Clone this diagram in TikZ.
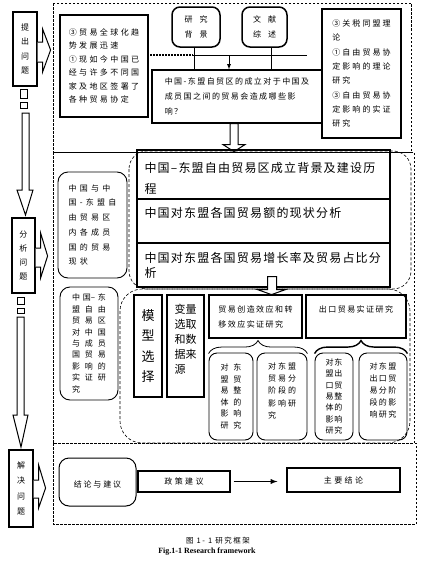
\documentclass[tikz,border=0pt]{standalone}
\usepackage{fontspec}
\setmainfont{Liberation Serif}
\newfontfamily\cjk{Noto Sans CJK SC}
\usetikzlibrary{decorations.pathreplacing}
\newcommand{\zh}[3]{\cjk\fontsize{#1}{#2}\selectfont\addfontfeature{LetterSpace=#3}}
\newcommand{\cell}[1]{\makebox[13pt]{#1}}
\begin{document}
\begin{tikzpicture}[x=1pt,y=-1pt]
\tikzstyle{box}=[draw,line width=1.2pt,inner sep=0pt,align=left]
\tikzstyle{rbox}=[box,line width=0.9pt,rounded corners=8pt]
\tikzstyle{wide}=[box,text width=238,inner xsep=7.5pt,minimum height=44]
\tikzstyle{frame}=[draw,line width=0.9pt,dash pattern=on 2.5pt off 1.5pt]
\tikzstyle{zone}=[draw,line width=0.6pt,dash pattern=on 3pt off 2pt,rounded corners=18pt]
\tikzstyle{hollow}=[draw,line width=1pt,fill=white]
\useasboundingbox (0,0) rectangle (428,562);
\draw[frame] (53,3) rectangle (411,152);
\draw[frame] (53,152) rectangle (414,443);
\draw[frame] (53,443) rectangle (416,524);
\draw[zone] (129,151) rectangle (411,289);
\draw[zone,rounded corners=22pt] (120,289) rectangle (410,443);
% left column
\node[box,align=center,minimum width=24,minimum height=74,font=\zh{8}{14.5}{0}] at (25,49) (raise) {提\\出\\问\\题};
\node[box,align=center,minimum width=23,minimum height=75,font=\zh{8}{14}{0}] at (23.5,255.5) (analyse) {分\\析\\问\\题};
\node[box,align=center,minimum width=24,minimum height=77,font=\zh{8}{15.3}{0}] at (21,488.5) (solve) {解\\决\\问\\题};
\draw[hollow] (raise.east) ++(0,-7) -- ++(5,0) -- ++(0,-13) -- ++(8,21) -- ++(-8,22) -- ++(0,-10) -- ++(-5,0);
\draw[hollow] (analyse.east) ++(0,-7.5) -- ++(5,0) -- ++(0,-15) -- ++(7,23) -- ++(-7,22) -- ++(0,-11) -- ++(-5,0);
\draw[hollow] (solve.east) ++(0,-8.5) -- ++(5,0) -- ++(0,-15) -- ++(7,23) -- ++(-7,20) -- ++(0,-10) -- ++(-5,0);
\draw[hollow] (20,89) rectangle (27,98);
\draw[hollow] (20,102) rectangle (27,108);
\draw[hollow] (22,113) -- (29,113) -- (29,190) -- (33,190) -- (25.5,215) -- (17,190) -- (22,190) -- cycle;
\draw[hollow] (17,297) rectangle (24,304);
\draw[hollow] (17,308) rectangle (24,313);
\draw[hollow] (17,317) -- (24,317) -- (24,415) -- (28,415) -- (21,447) -- (13,415) -- (17,415) -- cycle;
% top part
\node[box,minimum width=88,minimum height=102,font=\zh{8}{13.4}{30}] at (104,66) (trend) {③贸易全球化趋\\势发展迅速\\①现如今中国已\\经与许多不同国\\家及地区签署了\\各种贸易协定};
\node[rbox,line width=1.5pt,align=center,minimum width=48,minimum height=40,font=\zh{8}{15}{0}] at (196,27) (backgr) {研\hspace{7pt}究\\背\hspace{7pt}景};
\node[rbox,line width=1.5pt,align=center,minimum width=45,minimum height=40,font=\zh{8}{15}{0}] at (264.5,27) (review) {文\hspace{7pt}献\\综\hspace{7pt}述};
\node[box,minimum width=170,minimum height=53,font=\zh{8}{15}{18}] at (237,96.5) (ques) {中国-东盟自贸区的成立对于中国及\\成员国之间的贸易会造成哪些影\\响？};
\node[box,minimum width=79,minimum height=129,font=\zh{8}{14.3}{26}] at (361.5,73.5) (theory) {③关税同盟理\\论\\①自由贸易协\\定影响的理论\\研究\\③自由贸易协\\定影响的实证\\研究};
\coordinate (hl) at (150,55);
\coordinate (hm) at (193,55);
\coordinate (hr) at (307,55);
\coordinate (ha) at (229,55);
\draw[line width=1.5pt,dash pattern=on 2pt off 1pt] (hl) -- (hm);
\draw[line width=0.8pt] (hm) -- (hr);
\draw[line width=0.8pt] ([xshift=-2]backgr.south) -- ([xshift=-2]backgr.south |- ques.north);
\draw[line width=0.8pt] ([xshift=7]review.south) -- ([xshift=7]review.south |- ques.north);
\draw[line width=0.8pt,-latex] (ha) -- (ha |- ques.north);
\draw[hollow] ([xshift=-7]ques.south) -- ++(8,0) -- ++(0,21) -- ++(7,0) -- ++(-11,7) -- ++(-11,-7) -- ++(7,0) -- cycle;
% middle part
\node[wide,minimum height=49,font=\zh{12}{21}{10}] at (263.5,174.5) (hist) {\mbox{}\\[-3pt]中国–东盟自由贸易区成立背景及建设历\\程};
\node[wide,font=\zh{12}{17}{10}] at (263.5,221) (amount) {中国对东盟各国贸易额的现状分析\\\mbox{}};
\node[wide,font=\zh{12}{15}{10}] at (263.5,265) (rate) {中国对东盟各国贸易增长率及贸易占比分\\析};
\draw[hollow] ([xshift=4]rate.south) ++(0,-11) -- ++(9,0) -- ++(0,13) -- ++(9,0) -- ++(-14,5) -- ++(-14,-5) -- ++(10,0) -- cycle;
\node[rbox,rounded corners=10pt,minimum width=69,minimum height=106,font=\zh{8}{14.7}{40}] at (92.5,225) (status) {中国与中\\国-东盟自\\由贸易区\\内各成员\\国的贸易\\现状};
\node[rbox,rounded corners=10pt,minimum width=58,minimum height=113,font=\zh{8}{11.4}{0}] at (89,343.5) (impact) {\cell{中}\cell{国–}\cell{东}\\\cell{盟}\cell{自}\cell{由}\\\cell{贸}\cell{易}\cell{区}\\\cell{对}\cell{中}\cell{国}\\\cell{与}\cell{成}\cell{员}\\\cell{国}\cell{贸}\cell{易}\\\cell{影}\cell{响}\cell{的}\\\cell{实}\cell{证}\cell{研}\\\cell{究}};
\node[box,align=center,minimum width=28,minimum height=102,font=\zh{13}{20.5}{0}] at (148,346) (model) {模\\型\\选\\择};
\node[box,minimum width=37,minimum height=102,font=\zh{11}{15}{0}] at (185.5,346) (data) {变量\\选取\\和数\\据来\\源\\\mbox{}};
\node[box,minimum width=93,minimum height=43,font=\zh{8}{15}{18}] at (255.5,316.5) (create) {贸易创造效应和转\\移效应实证研究};
\node[box,minimum width=100,minimum height=43,font=\zh{8}{15}{18}] at (356,316.5) (export) {出口贸易实证研究\\\mbox{}};
\node[rbox,minimum width=44,minimum height=87,font=\zh{8}{11.6}{0}] at (231,396.5) (s1) {\cell{对}\cell{东}\\\cell{盟}\cell{贸}\\\cell{易}\cell{整}\\\cell{体}\cell{的}\\\cell{影}\cell{响}\\\cell{研}\cell{究}};
\node[rbox,minimum width=50,minimum height=87,font=\zh{8}{12.3}{25}] at (282,396.5) (s2) {对东盟\\贸易分\\阶段的\\影响研\\究\\\mbox{}};
\node[rbox,minimum width=38,minimum height=87,font=\zh{8}{11.3}{12}] at (334,396.5) (s3) {对东\\盟出\\口贸\\易整\\体的\\影响\\研究};
\node[rbox,minimum width=48,minimum height=87,font=\zh{8}{12}{18}] at (383,396.5) (s4) {对东盟\\出口贸\\易分阶\\段的影\\响研究\\\mbox{}};
\draw[line width=0.8pt,decorate,decoration={brace,amplitude=13pt}] ([yshift=-1]s1.north west) -- ([yshift=-1]s2.north east);
\draw[line width=1.4pt,decorate,decoration={brace,amplitude=13pt}] ([yshift=-1]s3.north west) -- ([yshift=-1]s4.north east);
% bottom part
\node[rbox,line width=1pt,rounded corners=10pt,align=center,minimum width=77,minimum height=48,font=\zh{8}{12}{22}] at (97.5,482) (concl) {\mbox{}\\结论与建议};
\node[box,align=center,minimum width=92,minimum height=21,font=\zh{8}{12}{30}] at (184,481.5) (policy) {政策建议};
\node[box,align=center,minimum width=113,minimum height=24,font=\zh{8}{12}{30}] at (343.5,480) (main) {主要结论};
\draw[line width=1.3pt,-latex,shorten <=3pt,shorten >=9pt] (policy.east) -- (policy.east -| main.west);
\node[font=\zh{7.5}{9}{20}] at (218,541) (cap) {图 1- 1 研究框架};
\node[font=\bfseries\fontsize{8}{9}\selectfont] at (207,552) (capen) {Fig.1-1 Research framework};
\end{tikzpicture}
\end{document}
